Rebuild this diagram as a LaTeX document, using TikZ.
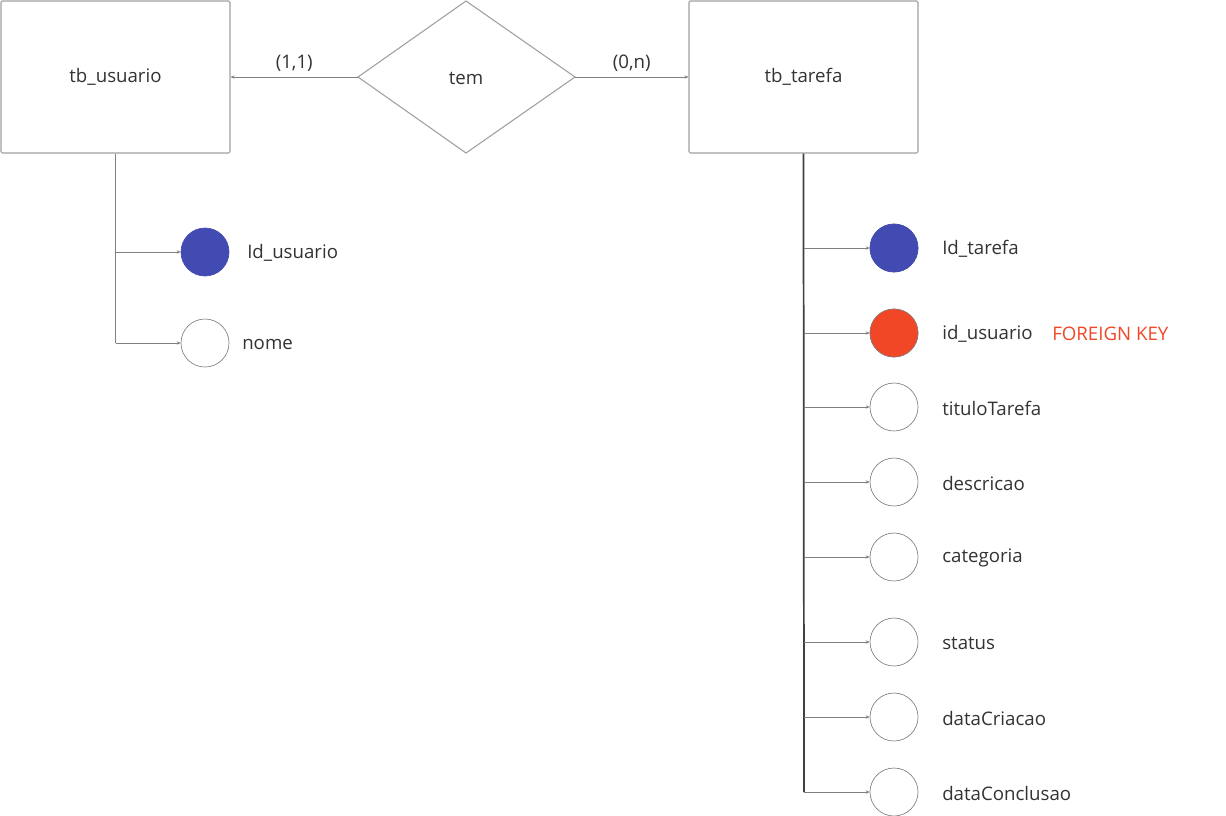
\documentclass[tikz,border=0pt]{standalone}
\usepackage{fontspec}
\setmainfont{Open Sans}
\usetikzlibrary{shapes.geometric,arrows.meta}
\definecolor{edgegray}{HTML}{A0A0A0}
\definecolor{txt}{HTML}{333333}
\definecolor{pkblue}{HTML}{414BB2}
\definecolor{fkred}{HTML}{F24726}
\begin{document}
\begin{tikzpicture}[x=0.75pt,y=-0.75pt,
  every node/.style={font=\fontsize{14}{17}\selectfont, text=txt},
  entity/.style={draw=edgegray, line width=0.8pt, minimum width=171.75pt, minimum height=114pt, inner sep=0pt, rounded corners=1pt},
  attr/.style={circle, draw=gray, line width=0.5pt, minimum size=36pt, inner sep=0pt, fill=white},
  lbl/.style={anchor=west, inner sep=0pt},
  conn/.style={draw=gray, line width=0.6pt, -{Stealth[length=3pt,width=2.5pt]}},
  trunk/.style={draw=gray, line width=0.8pt}
]
\useasboundingbox (0,0) rectangle (1226,815);
\fill[white] (0,0) rectangle (1226,815);

% entities and relationship
\node[entity] (usu) at (115.5,77) {tb\_usuario};
\node[entity] (tar) at (803.5,77) {tb\_tarefa};
\draw[draw=edgegray, line width=0.8pt] (358,77) -- (466,1) -- (575,77) -- (466,153) -- cycle;
\node[inner sep=0pt] (rel) at (466,78) {tem};
\coordinate (relL) at (358,77);
\coordinate (relR) at (575,77);

\draw[conn] (relL) -- (usu.east) node[midway, above=0.5pt] {(1,1)};
\draw[conn] (relR) -- (tar.west) node[midway, above=0.5pt] {(0,n)};

% tb_usuario attributes
\node[attr, fill=pkblue, draw=pkblue] (a1) at (205,252) {};
\node[lbl] (l1) at (247,253) {Id\_usuario};
\node[attr] (a2) at (205,343) {};
\node[lbl] (l2) at (242,344) {nome};
\coordinate (uj1) at (115.5,252);
\coordinate (uj2) at (115.5,343);
\draw[trunk] (usu.south) -- (uj2);
\draw[conn] (uj1) -- (a1.west);
\draw[conn] (uj2) -- (a2.west);

% tb_tarefa attributes
\coordinate (tbot) at (804,792);
\draw[draw=black!75, line width=1.3pt] (tar.south) -- (tbot);
\foreach \n/\y/\t in {b1/248/Id\_tarefa, b2/333/id\_usuario, b3/407/tituloTarefa, b4/482/descricao, b5/557/categoria, b6/642/status, b7/717/dataCriacao, b8/792/dataConclusao}{
  \node[attr] (\n) at (894,\y) {};
  \node[lbl] (\n l) at (942,\y+1) {\t};
  \coordinate (\n j) at (804,\y);
  \draw[conn] (\n j) -- (\n.west);
}
\node[attr, fill=pkblue, draw=pkblue] at (b1) {};
\node[attr, fill=fkred, draw=gray!80!fkred] at (b2) {};
\node[lbl, text=fkred] (fk) at (1052,334) {FOREIGN KEY};
\end{tikzpicture}
\end{document}
